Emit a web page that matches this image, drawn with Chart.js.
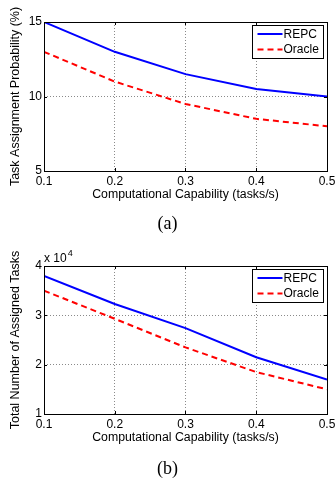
<!DOCTYPE html>
<html>
<head>
<meta charset="utf-8">
<script src="https://cdn.jsdelivr.net/npm/chart.js@4/dist/chart.umd.min.js"></script>
<style>
  body { margin: 0; background: #fff; width: 335px; height: 481px; overflow: hidden; position: relative; }
  .panel { position: absolute; left: 0; width: 335px; }
  .caption { position: absolute; left: 0; width: 335px; text-align: center; font-family: "Liberation Serif", "DejaVu Serif", serif; font-size: 18px; color: #000; }
</style>
</head>
<body>
<div class="panel" style="top:0;height:240px"><canvas id="chartA" width="335" height="240"></canvas></div>
<div class="caption" style="top:213px">(a)</div>
<div class="panel" style="top:240px;height:241px"><canvas id="chartB" width="335" height="241"></canvas></div>
<div class="caption" style="top:458px">(b)</div>
<script>
// x-Achse: Rechenkapazität
const capability = [0.1, 0.2, 0.3, 0.4, 0.5];

// (a) Zuweisungswahrscheinlichkeit in %
const probREPC = [15, 13, 11.5, 10.5, 10];
const probOracle = [13, 11, 9.5, 8.5, 8];

// (b) Gesamtzahl zugewiesener Aufgaben
const tasksREPC = [38000, 32300, 27400, 21500, 17000];
const tasksOracle = [35000, 29300, 23500, 18500, 15000];

const seriesNames = ['REPC', 'Oracle'];
const xTitle = 'Computational Capability (tasks/s)';

const font = "'Liberation Sans', Arial, Helvetica, sans-serif";

function points(values) {
    return capability.map((c, i) => ({ x: c, y: values[i] }));
}

// Rahmen, innenliegende Ticks, Legende im Plot
const matlabBox = {
    id: 'matlabBox',
    afterDatasetsDraw(chart) {
        const ctx = chart.ctx;
        const a = chart.chartArea;
        ctx.save();
        ctx.strokeStyle = '#000';
        ctx.lineWidth = 1;
        ctx.setLineDash([]);
        ctx.strokeRect(Math.round(a.left) + 0.5, Math.round(a.top) + 0.5, Math.round(a.right - a.left), Math.round(a.bottom - a.top));

        // kleine Ticks nach innen
        const xs = chart.scales.x, ys = chart.scales.y;
        ctx.beginPath();
        xs.ticks.forEach(t => {
            const px = Math.round(xs.getPixelForValue(t.value)) + 0.5;
            ctx.moveTo(px, a.bottom); ctx.lineTo(px, a.bottom - 3);
            ctx.moveTo(px, a.top); ctx.lineTo(px, a.top + 3);
        });
        ys.ticks.forEach(t => {
            const py = Math.round(ys.getPixelForValue(t.value)) + 0.5;
            ctx.moveTo(a.left, py); ctx.lineTo(a.left + 3, py);
            ctx.moveTo(a.right, py); ctx.lineTo(a.right - 3, py);
        });
        ctx.stroke();

        // Legende
        const bw = 71, bh = 33;
        const bx = Math.round(a.right - 4 - bw) + 0.5;
        const by = Math.round(a.top + 3) + 0.5;
        ctx.fillStyle = '#fff';
        ctx.fillRect(bx, by, bw, bh);
        ctx.strokeStyle = '#000';
        ctx.strokeRect(bx, by, bw, bh);
        ctx.font = '12px ' + font;
        ctx.textBaseline = 'middle';
        chart.data.datasets.forEach((ds, i) => {
            const ry = by + 8.5 + i * 15.5;
            ctx.strokeStyle = ds.borderColor;
            ctx.lineWidth = ds.borderWidth;
            ctx.setLineDash(ds.borderDash || []);
            ctx.beginPath();
            ctx.moveTo(bx + 5, ry);
            ctx.lineTo(bx + 30, ry);
            ctx.stroke();
            ctx.fillStyle = '#000';
            ctx.fillText(ds.label, bx + 31, ry + 0.5);
        });

        // Exponent über der y-Achse
        const exp = chart.options.plugins.matlabBox && chart.options.plugins.matlabBox.exponent;
        if (exp) {
            ctx.fillStyle = '#000';
            ctx.font = '12px ' + font;
            ctx.textBaseline = 'alphabetic';
            ctx.fillText('x 10', a.left, a.top - 4);
            const w = ctx.measureText('x 10').width;
            ctx.font = '9px ' + font;
            ctx.fillText(exp, a.left + w + 1, a.top - 10);
        }
        ctx.restore();
    }
};

function makeChart(id, repc, oracle, yOpts, pad, exponent) {
    const ctx = document.getElementById(id).getContext('2d');
    return new Chart(ctx, {
        type: 'line',
        data: {
            datasets: [
                {
                    label: seriesNames[0],
                    data: points(repc),
                    borderColor: '#0000ff',
                    borderWidth: 2,
                    pointRadius: 0,
                    fill: false,
                    tension: 0
                },
                {
                    label: seriesNames[1],
                    data: points(oracle),
                    borderColor: '#ff0000',
                    borderWidth: 2,
                    borderDash: [6, 4],
                    pointRadius: 0,
                    fill: false,
                    tension: 0
                }
            ]
        },
        options: {
            responsive: false,
            animation: false,
            layout: { padding: { top: pad.top, right: 8, left: 0, bottom: pad.bottom } },
            plugins: {
                legend: { display: false },
                tooltip: { enabled: false },
                matlabBox: { exponent: exponent }
            },
            scales: {
                x: {
                    type: 'linear',
                    min: 0.1,
                    max: 0.5,
                    ticks: {
                        stepSize: 0.1,
                        padding: 3,
                        color: '#000',
                        maxRotation: 0,
                        font: { family: font, size: 12 },
                        callback: v => v.toFixed(1)
                    },
                    grid: { color: '#8a8a8a', drawTicks: false, lineWidth: 1 },
                    border: { display: false, dash: [1, 2] },
                    title: {
                        display: true,
                        text: xTitle,
                        color: '#000',
                        padding: 0,
                        font: { family: font, size: 12.3 }
                    },
                    afterFit: s => { s.height = 31; s.paddingLeft = 0; s.paddingRight = 0; }
                },
                y: {
                    min: yOpts.min,
                    max: yOpts.max,
                    ticks: {
                        stepSize: yOpts.step,
                        padding: 2,
                        color: '#000',
                        font: { family: font, size: 12 },
                        callback: yOpts.format
                    },
                    grid: { color: '#8a8a8a', drawTicks: false, lineWidth: 1 },
                    border: { display: false, dash: [1, 2] },
                    title: {
                        display: true,
                        text: yOpts.title,
                        color: '#000',
                        padding: { top: 8, bottom: 0 },
                        font: { family: font, size: 12.5 }
                    },
                    afterFit: s => { s.width = 44; s.paddingTop = 0; s.paddingBottom = 0; }
                }
            }
        },
        plugins: [matlabBox]
    });
}

makeChart('chartA', probREPC, probOracle,
    { min: 5, max: 15, step: 5, title: 'Task Assignment Probability (%)', format: v => v },
    { top: 22, bottom: 38 }, null);

makeChart('chartB', tasksREPC, tasksOracle,
    { min: 10000, max: 40000, step: 10000, title: 'Total Number of Assigned Tasks', format: v => v / 10000 },
    { top: 26, bottom: 36 }, '4');
</script>
</body>
</html>
